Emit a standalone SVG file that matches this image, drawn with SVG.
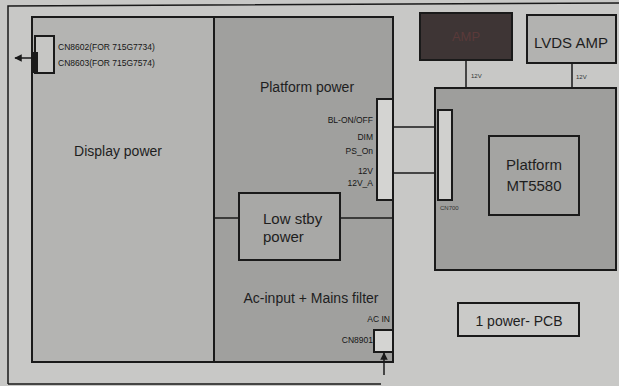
<svg xmlns="http://www.w3.org/2000/svg" width="619" height="386" viewBox="0 0 619 386">
<defs>
<style>
text{font-family:"Liberation Sans",Arial,sans-serif;fill:#1e1e1e}
.box{stroke:#1a1a1a;stroke-width:2}
.thin{stroke:#1a1a1a;stroke-width:1.5;fill:none}
.lbl{font-size:14px}
.sm{font-size:8.5px;fill:#161616}
.xs{font-size:6px;fill:#333}
</style>
<marker id="ah" viewBox="0 0 10 10" refX="9" refY="5" markerWidth="5" markerHeight="5" orient="auto"><path d="M0,0 L10,5 L0,10 z" fill="#1a1a1a"/></marker>
</defs>
<rect width="619" height="386" fill="#c8c8c6"/>
<path d="M8,384 L8,6 L619,3 M8,384 L381,384" class="thin" stroke-width="2"/>

<g id="display-power">
<rect x="32" y="17" width="182" height="345" fill="#b4b4b2" class="box" stroke-width="2.5"/>
<text x="118" y="156" class="lbl" text-anchor="middle">Display power</text>
<rect x="35" y="36" width="19" height="37" fill="#c6c6c4" class="box" stroke-width="1.5"/>
<rect x="33" y="52" width="5" height="21" fill="#1a1a1a"/>
<text x="58" y="50" class="sm">CN8602(FOR 715G7734)</text>
<text x="58" y="66" class="sm">CN8603(FOR 715G7574)</text>
</g>

<g id="platform-power">
<rect x="214" y="17" width="179" height="345" fill="#a0a09e" class="box"/>
<text x="307" y="92" class="lbl" text-anchor="middle">Platform power</text>
<rect x="377" y="99" width="16" height="101" fill="#d4d4d2" class="box" stroke-width="1.5"/>
<text x="373" y="123" class="sm" text-anchor="end">BL-ON/OFF</text>
<text x="373" y="140" class="sm" text-anchor="end">DIM</text>
<text x="373" y="154" class="sm" text-anchor="end">PS_On</text>
<text x="373" y="174" class="sm" text-anchor="end">12V</text>
<text x="373" y="186" class="sm" text-anchor="end">12V_A</text>
</g>

<g id="ac-input">
<path d="M214,218 L239,218 M340,218 L393,218" class="thin"/>
<text x="311" y="303" class="lbl" text-anchor="middle">Ac-input + Mains filter</text>
<text x="390" y="322" class="sm" text-anchor="end">AC IN</text>
<text x="373" y="343" class="sm" text-anchor="end">CN8901</text>
<rect x="374" y="330" width="19" height="22" fill="#d4d4d2" class="box" stroke-width="1.5"/>
</g>

<g id="low-stby-power">
<rect x="239" y="193" width="101" height="67" fill="#a8a8a6" class="box"/>
<text x="263" y="224" font-size="15px">Low stby</text>
<text x="263" y="242" font-size="15px">power</text>
</g>

<g id="amp">
<rect x="420" y="13" width="92" height="47" fill="#3e3535" class="box"/>
<text x="466" y="41" font-size="13px" text-anchor="middle" style="fill:#5a3a3a">AMP</text>
</g>

<g id="lvds-amp">
<rect x="527" y="15" width="89" height="48" fill="#b2b2b0" class="box"/>
<text x="571" y="48" font-size="15px" text-anchor="middle">LVDS AMP</text>
</g>

<g id="platform-board">
<rect x="435" y="88" width="181" height="182" fill="#9e9e9c" class="box"/>
<rect x="438" y="110" width="14" height="90" fill="#d0d0ce" class="box" stroke-width="1.5"/>
<text x="440" y="210" class="xs">CN700</text>
</g>

<g id="platform-mt5580">
<rect x="489" y="136" width="90" height="79" fill="#a4a4a2" class="box"/>
<text x="534" y="170" font-size="15px" text-anchor="middle">Platform</text>
<text x="534" y="191" font-size="15px" text-anchor="middle">MT5580</text>
</g>

<g id="power-pcb">
<rect x="458" y="303" width="121" height="33" fill="#cacac8" class="box"/>
<text x="519" y="326" class="lbl" text-anchor="middle">1 power- PCB</text>
</g>

<g id="connectors">
<line x1="38" y1="58" x2="15" y2="58" class="thin" marker-end="url(#ah)"/>
<line x1="393" y1="127" x2="435" y2="127" class="thin" stroke-width="2"/>
<line x1="393" y1="173" x2="435" y2="173" class="thin" stroke-width="2"/>
<line x1="466" y1="60" x2="466" y2="88" class="thin"/>
<text x="471" y="78" class="xs">12V</text>
<line x1="572" y1="63" x2="572" y2="88" class="thin"/>
<text x="576" y="79" class="xs">12V</text>
<line x1="384" y1="375" x2="384" y2="353" class="thin" stroke-width="2.5" marker-end="url(#ah)"/>
</g>
</svg>
